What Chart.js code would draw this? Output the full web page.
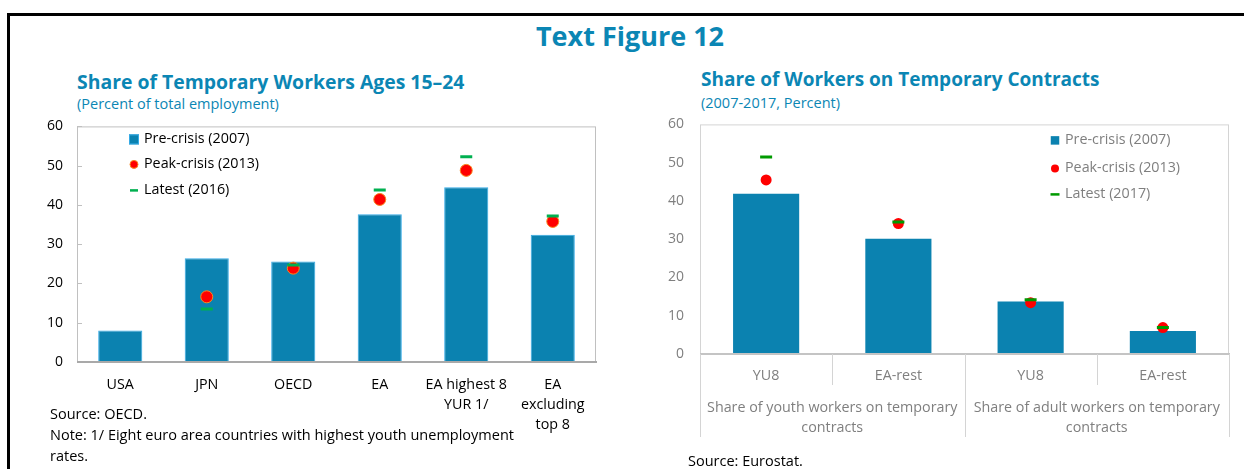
<!DOCTYPE html>
<html>
<head>
<meta charset="utf-8">
<title>Text Figure 12</title>
<script src="https://cdn.jsdelivr.net/npm/chart.js@4.4.1/dist/chart.umd.min.js"></script>
<style>
  html, body { margin: 0; padding: 0; background: #fff; }
  body { width: 1244px; height: 469px; position: relative; overflow: hidden;
         font-family: 'Open Sans', 'Noto Sans', sans-serif; }
  .frame { position: absolute; left: 7px; top: 13px; width: 1240px; height: 470px;
           border-top: 3px solid #000; border-left: 3px solid #000; }
  .txt { position: absolute; white-space: nowrap; }
  .main-title { left: 0; width: 1260px; text-align: center; top: 22px; font-size: 27px; line-height: 27px;
                font-weight: 700; color: #0b86b4; }
  .chart-title { font-size: 19.4px; line-height: 19px; font-weight: 700; color: #0b86b4; }
  .chart-sub { font-size: 14.5px; line-height: 14.5px; color: #0b86b4; }
  .note { font-size: 14.5px; line-height: 21px; color: #000; }
  canvas { position: absolute; }
</style>
</head>
<body>
<div class="frame"></div>
<div class="txt main-title">Text Figure 12</div>

<div class="txt chart-title" style="left:77px; top:72px;">Share of Temporary Workers Ages 15–24</div>
<div class="txt chart-sub" style="left:77px; top:97px;">(Percent of total employment)</div>
<canvas id="left" width="600" height="336" style="left:20px; top:104px;"></canvas>
<div class="txt note" style="left:50px; top:403px;">Source: OECD.<br>Note: 1/ Eight euro area countries with highest youth unemployment<br>rates.</div>

<div class="txt chart-title" style="left:701px; top:70px; font-size:19px;">Share of Workers on Temporary Contracts</div>
<div class="txt chart-sub" style="left:701px; top:96px;">(2007-2017, Percent)</div>
<canvas id="right" width="600" height="357" style="left:640px; top:100px;"></canvas>
<div class="txt note" style="left:688px; top:450px;">Source: Eurostat.</div>

<script>
// ---- Left panel: share of temporary workers aged 15-24 ----
const leftCategories = [['USA'], ['JPN'], ['OECD'], ['EA'], ['EA highest 8', 'YUR 1/'], ['EA', 'excluding', 'top 8']];
const leftPreCrisis  = [8.0, 26.4, 25.6, 37.6, 44.5, 32.4];
const leftPeakCrisis = [null, 16.6, 23.9, 41.4, 48.8, 35.8];
const leftLatest     = [null, 13.5, 24.7, 43.8, 52.3, 37.2];
const leftSeriesNames = ['Pre-crisis (2007)', 'Peak-crisis (2013)', 'Latest (2016)'];

// ---- Right panel: share of workers on temporary contracts ----
const rightCategories = ['YU8', 'EA-rest', 'YU8', 'EA-rest'];
const rightGroups = [
  ['Share of youth workers on temporary', 'contracts'],
  ['Share of adult workers on temporary', 'contracts']
];
const rightPreCrisis  = [41.9, 30.1, 13.7, 6.0];
const rightPeakCrisis = [45.5, 34.1, 13.4, 6.9];
const rightLatest     = [51.5, 34.5, 14.2, 6.9];
const rightSeriesNames = ['Pre-crisis (2007)', 'Peak-crisis (2013)', 'Latest (2017)'];

const yTickValues = [0, 10, 20, 30, 40, 50, 60];

Chart.defaults.font.family = "'Open Sans', 'Noto Sans', sans-serif";
Chart.defaults.animation = false;

const BAR_BLUE = '#0b82b0';

// Box around the plot area, inward tick marks, and the in-plot legend.
const panelDecor = {
  id: 'panelDecor',
  afterDatasetsDraw(chart, args, opts) {
    const { ctx, chartArea: a } = chart;
    ctx.save();
    ctx.strokeStyle = opts.boxColor;
    ctx.lineWidth = 1;
    ctx.strokeRect(a.left + 0.5, a.top + 0.5, a.right - a.left - 1, a.bottom - a.top);
    ctx.strokeStyle = opts.axisColor;
    ctx.lineWidth = 2;
    ctx.beginPath();
    ctx.moveTo(a.left, a.bottom);
    ctx.lineTo(a.right + 1, a.bottom);
    ctx.stroke();
    if (opts.innerTicks) {
      const ys = chart.scales.y;
      ctx.strokeStyle = opts.boxColor;
      ctx.lineWidth = 1;
      ys.ticks.forEach(t => {
        const py = Math.round(ys.getPixelForValue(t.value)) + 0.5;
        if (t.value === 0) return;
        ctx.beginPath();
        ctx.moveTo(a.left, py);
        ctx.lineTo(a.left + 5, py);
        ctx.stroke();
      });
    }
    ctx.restore();
  },
  afterDraw(chart, args, opts) {
    const { ctx, chartArea: a } = chart;
    const L = opts.legend;
    const mx = (L.anchor === 'right' ? a.right : a.left) + L.dx;
    ctx.save();
    ctx.font = `${L.fontSize}px 'Open Sans', 'Noto Sans', sans-serif`;
    ctx.textBaseline = 'middle';
    ctx.textAlign = 'left';
    chart.data.datasets.forEach((ds, i) => {
      const y = a.top + L.rows[i];
      if (ds.type === 'bar') {
        ctx.fillStyle = ds.backgroundColor;
        ctx.fillRect(mx - L.square / 2, y - L.square / 2, L.square, L.square);
        if (ds.borderWidth) {
          ctx.strokeStyle = ds.borderColor;
          ctx.lineWidth = 1;
          ctx.strokeRect(mx - L.square / 2 + 0.5, y - L.square / 2 + 0.5, L.square - 1, L.square - 1);
        }
      } else if (ds.pointStyle === 'circle') {
        ctx.beginPath();
        ctx.arc(mx, y, L.dot, 0, Math.PI * 2);
        ctx.fillStyle = ds.pointBackgroundColor;
        ctx.fill();
        if (ds.pointBorderWidth) {
          ctx.strokeStyle = ds.pointBorderColor;
          ctx.lineWidth = 1;
          ctx.stroke();
        }
      } else {
        ctx.fillStyle = ds.pointBorderColor;
        ctx.fillRect(mx - L.dash / 2, y - 1.25, L.dash, 2.5);
      }
      ctx.fillStyle = L.color;
      ctx.fillText(ds.label, mx + L.textGap, y);
    });
    ctx.restore();
  }
};

// Two-level category labels with separators under the right panel.
const groupAxis = {
  id: 'groupAxis',
  afterDraw(chart, args, opts) {
    if (!opts.groups) return;
    const { ctx, chartArea: a } = chart;
    const xs = chart.scales.x;
    const n = chart.data.labels.length;
    const step = (xs.getPixelForValue(1) - xs.getPixelForValue(0));
    ctx.save();
    ctx.strokeStyle = opts.lineColor;
    ctx.lineWidth = 1;
    for (let i = 0; i <= n; i++) {
      const px = Math.round(xs.getPixelForValue(0) + (i - 0.5) * step) + 0.5;
      const outer = (i % 2 === 0);
      ctx.beginPath();
      ctx.moveTo(px, a.bottom);
      ctx.lineTo(px, a.bottom + (outer ? opts.outerLen : opts.innerLen));
      ctx.stroke();
    }
    ctx.font = `${opts.fontSize}px 'Open Sans', 'Noto Sans', sans-serif`;
    ctx.fillStyle = opts.color;
    ctx.textAlign = 'center';
    ctx.textBaseline = 'middle';
    opts.groups.forEach((lines, g) => {
      const cx = (xs.getPixelForValue(2 * g) + xs.getPixelForValue(2 * g + 1)) / 2;
      lines.forEach((line, k) => ctx.fillText(line, cx, a.bottom + opts.firstLine + k * opts.lineGap));
    });
    ctx.restore();
  }
};

function makeChart(id, cfg) {
  return new Chart(document.getElementById(id), {
    data: {
      labels: cfg.labels,
      datasets: [
        { type: 'bar', label: cfg.names[0], data: cfg.pre, backgroundColor: BAR_BLUE,
          borderColor: cfg.barBorder, borderWidth: cfg.barBorder ? 1 : 0,
          categoryPercentage: 1, barPercentage: cfg.barPct, order: 3 },
        { type: 'line', label: cfg.names[1], data: cfg.peak, showLine: false,
          pointStyle: 'circle', pointRadius: cfg.dotR, pointHoverRadius: cfg.dotR,
          pointBackgroundColor: '#ff0000', pointBorderColor: cfg.dotBorder || '#ff0000',
          pointBorderWidth: cfg.dotBorder ? 1 : 0, order: 2 },
        { type: 'line', label: cfg.names[2], data: cfg.latest, showLine: false,
          pointStyle: 'line', pointRadius: 6, pointHoverRadius: 6,
          pointBorderColor: cfg.green, pointBackgroundColor: cfg.green, pointBorderWidth: 3, order: 1 }
      ]
    },
    options: {
      responsive: false,
      animation: false,
      layout: { padding: cfg.padding },
      plugins: {
        legend: { display: false },
        tooltip: { enabled: false },
        panelDecor: cfg.decor,
        groupAxis: cfg.groupAxis || {}
      },
      scales: {
        x: {
          type: 'category',
          offset: true,
          grid: { display: false, drawTicks: false },
          border: { display: false },
          ticks: { color: cfg.tickColor, font: { size: 14.3, lineHeight: cfg.xLineHeight },
                   padding: cfg.xPad, maxRotation: 0, autoSkip: false },
          afterFit(s) { s.height = cfg.xHeight; }
        },
        y: {
          min: 0, max: 60,
          grid: { display: false, drawTicks: false },
          border: { display: false },
          ticks: { color: cfg.tickColor, font: { size: 14 }, padding: cfg.yPad },
          afterBuildTicks(s) { s.ticks = yTickValues.map(v => ({ value: v })); },
          afterFit(s) { s.width = cfg.yWidth; }
        }
      }
    },
    plugins: [panelDecor, groupAxis]
  });
}

makeChart('left', {
  labels: leftCategories, names: leftSeriesNames,
  pre: leftPreCrisis, peak: leftPeakCrisis, latest: leftLatest,
  barBorder: '#35aae6', barPct: 0.51, dotR: 6, dotBorder: '#f7891f', green: '#00b050',
  padding: { top: 10, right: 24, left: 0, bottom: 0 },
  yWidth: 57, xHeight: 78, xPad: 13, yPad: 14, xLineHeight: '20px', tickColor: '#000000',
  decor: {
    boxColor: '#c0c0c0', axisColor: '#a9a9a9', innerTicks: true,
    legend: { anchor: 'left', dx: 57, rows: [13, 38, 64], square: 10, dot: 4, dash: 8,
              textGap: 10, fontSize: 14.3, color: '#000000' }
  }
});

makeChart('right', {
  labels: rightCategories, names: rightSeriesNames,
  pre: rightPreCrisis, peak: rightPeakCrisis, latest: rightLatest,
  barBorder: null, barPct: 0.5, dotR: 5.5, dotBorder: null, green: '#009a00',
  padding: { top: 11, right: 11, left: 0, bottom: 0 },
  yWidth: 60, xHeight: 103, xPad: 12, yPad: 16, xLineHeight: '20px', tickColor: '#7f7f7f',
  decor: {
    boxColor: '#d4d4d4', axisColor: '#c4c4c4', innerTicks: false,
    legend: { anchor: 'right', dx: -174, rows: [16, 44, 70], square: 8.5, dot: 4, dash: 9,
              textGap: 10, fontSize: 14.3, color: '#7f7f7f' }
  },
  groupAxis: { groups: rightGroups, lineColor: '#d4d4d4', innerLen: 31, outerLen: 83,
               firstLine: 54, lineGap: 20, fontSize: 14.3, color: '#7f7f7f' }
});
</script>
</body>
</html>
